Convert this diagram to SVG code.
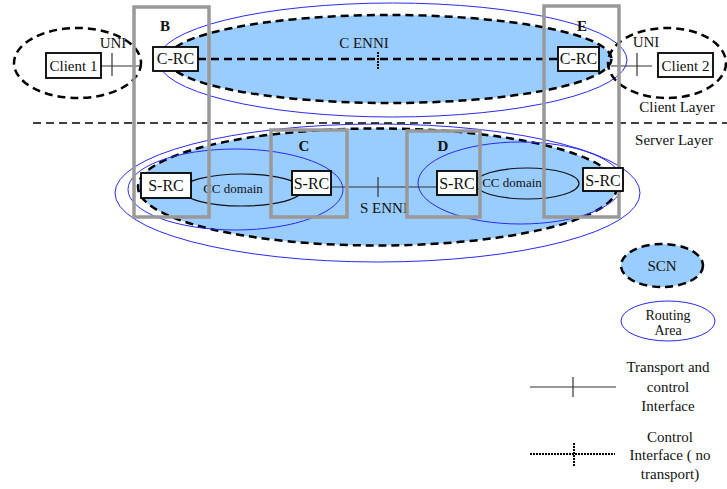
<svg xmlns="http://www.w3.org/2000/svg" width="727" height="489" viewBox="0 0 727 489">
<style>
text{font-family:'Liberation Serif','Times New Roman','DejaVu Serif',serif;fill:#111;font-size:15px}
.ra{fill:none;stroke:#2a2aee;stroke-width:1}
.scn{fill:#99ccff;stroke:#000;stroke-width:2.5;stroke-dasharray:8,5}
.cl{fill:none;stroke:#000;stroke-width:2.5;stroke-dasharray:8,5}
.box{fill:none;stroke:#999;stroke-width:3.5}
.node{fill:#fff;stroke:#000;stroke-width:1.8}
.lbl{font-weight:bold;font-size:15px}
.cc{fill:none;stroke:#111;stroke-width:1.2}
.ln{stroke:#333;stroke-width:1.2;fill:none}
.ctl{stroke:#000;stroke-width:2.5;fill:none;stroke-dasharray:8,5}
.dot{stroke:#000;stroke-width:2;fill:none;stroke-dasharray:2,1}
.mid{text-anchor:middle}
.n16{font-size:16px}
.s13{font-size:13px}
.s14{font-size:14px}
</style>
<g id="areas">
<ellipse id="client-ra" class="ra" cx="392.5" cy="60" rx="234.5" ry="57"/>
<ellipse id="client-scn" class="scn" cx="389.5" cy="59" rx="222" ry="44"/>
<ellipse id="server-ra" class="ra" cx="377.5" cy="193" rx="262.5" ry="69"/>
<ellipse id="server-scn" class="scn" cx="377.5" cy="187" rx="239.5" ry="58.5"/>
<ellipse id="ra-left" class="ra" cx="235.5" cy="189.5" rx="107.5" ry="40.5"/>
<ellipse id="ra-right" class="ra" cx="520.5" cy="183" rx="102.5" ry="41"/>
<ellipse id="client1-area" class="cl" cx="77.5" cy="63" rx="63.5" ry="35"/>
<ellipse id="client2-area" class="cl" cx="667" cy="63" rx="59" ry="35"/>
</g>
<g id="cc-domains">
<ellipse class="cc" cx="242" cy="190" rx="60" ry="16"/>
<text x="233" y="193" class="mid s13">CC domain</text>
<ellipse class="cc" cx="527" cy="183.5" rx="52" ry="15.5"/>
<text x="512" y="187" class="mid s13">CC domain</text>
</g>
<g id="connectors">
<line class="ctl" x1="198" y1="59" x2="558" y2="59"/>
<line class="dot" x1="378" y1="52" x2="378" y2="70"/>
<text x="364" y="48" class="mid">C ENNI</text>
<line class="ln" x1="101" y1="66" x2="140" y2="66"/>
<line class="ln" x1="112" y1="53" x2="112" y2="76"/>
<text x="113" y="48" class="mid">UNI</text>
<line class="ln" x1="611" y1="66" x2="652" y2="66"/>
<line class="ln" x1="637" y1="53" x2="637" y2="76"/>
<text x="646" y="47" class="mid">UNI</text>
<line class="ln" x1="331" y1="187" x2="437" y2="187"/>
<line class="ln" x1="378" y1="177" x2="378" y2="197"/>
<text x="384" y="213" class="mid">S ENNI</text>
</g>
<g id="layer-line">
<line x1="33" y1="123" x2="727" y2="123" stroke="#000" stroke-width="1.5" stroke-dasharray="8,5"/>
<text x="677" y="112" class="mid">Client Layer</text>
<text x="674" y="145" class="mid">Server Layer</text>
</g>
<g id="box-B"><rect class="box" x="134" y="7" width="75" height="210"/><text class="lbl mid" x="165" y="31">B</text></g>
<g id="box-E"><rect class="box" x="544" y="6" width="75" height="211"/><text class="lbl mid" x="582" y="31">E</text></g>
<g id="box-C"><rect class="box" x="271" y="130" width="76" height="87"/><text class="lbl mid" x="304" y="151">C</text></g>
<g id="box-D"><rect class="box" x="407" y="131" width="73" height="86"/><text class="lbl mid" x="443" y="151">D</text></g>
<g id="client1"><rect class="node" x="46" y="53" width="55" height="25"/><text class="mid" x="73.5" y="71">Client 1</text></g>
<g id="client2"><rect class="node" x="658" y="53" width="55" height="24"/><text class="mid" x="685.5" y="71">Client 2</text></g>
<g id="crc-B"><rect class="node" x="153" y="47" width="45" height="24"/><text class="mid n16" x="175.5" y="64">C-RC</text></g>
<g id="crc-E"><rect class="node" x="558" y="47" width="41" height="24"/><text class="mid n16" x="578.5" y="64">C-RC</text></g>
<g id="src-B"><rect class="node" x="141" y="173" width="50" height="25"/><text class="mid n16" x="166" y="191">S-RC</text></g>
<g id="src-C"><rect class="node" x="292" y="171" width="39" height="24"/><text class="mid n16" x="311.5" y="189">S-RC</text></g>
<g id="src-D"><rect class="node" x="437" y="171" width="40" height="24"/><text class="mid n16" x="457" y="189">S-RC</text></g>
<g id="src-E"><rect class="node" x="583" y="168" width="40" height="23"/><text class="mid n16" x="603" y="186">S-RC</text></g>
<g id="legend">
<ellipse class="scn" cx="662" cy="265.5" rx="41" ry="21.5"/>
<text class="mid" x="662" y="271">SCN</text>
<ellipse class="ra" cx="668" cy="321" rx="47" ry="20"/>
<text class="mid s14" x="668" y="320">Routing</text>
<text class="mid s14" x="668" y="335">Area</text>
<line class="ln" x1="530" y1="387" x2="616" y2="387"/>
<line class="ln" x1="573" y1="377" x2="573" y2="397"/>
<text class="mid" x="668" y="372">Transport and</text>
<text class="mid" x="668" y="392">control</text>
<text class="mid" x="668" y="411">Interface</text>
<line class="dot" x1="530" y1="454" x2="615" y2="454"/>
<line class="dot" x1="574" y1="443" x2="574" y2="466"/>
<text class="mid" x="670" y="442">Control</text>
<text class="mid" x="670" y="460">Interface ( no</text>
<text class="mid" x="670" y="479">transport)</text>
</g>
</svg>
